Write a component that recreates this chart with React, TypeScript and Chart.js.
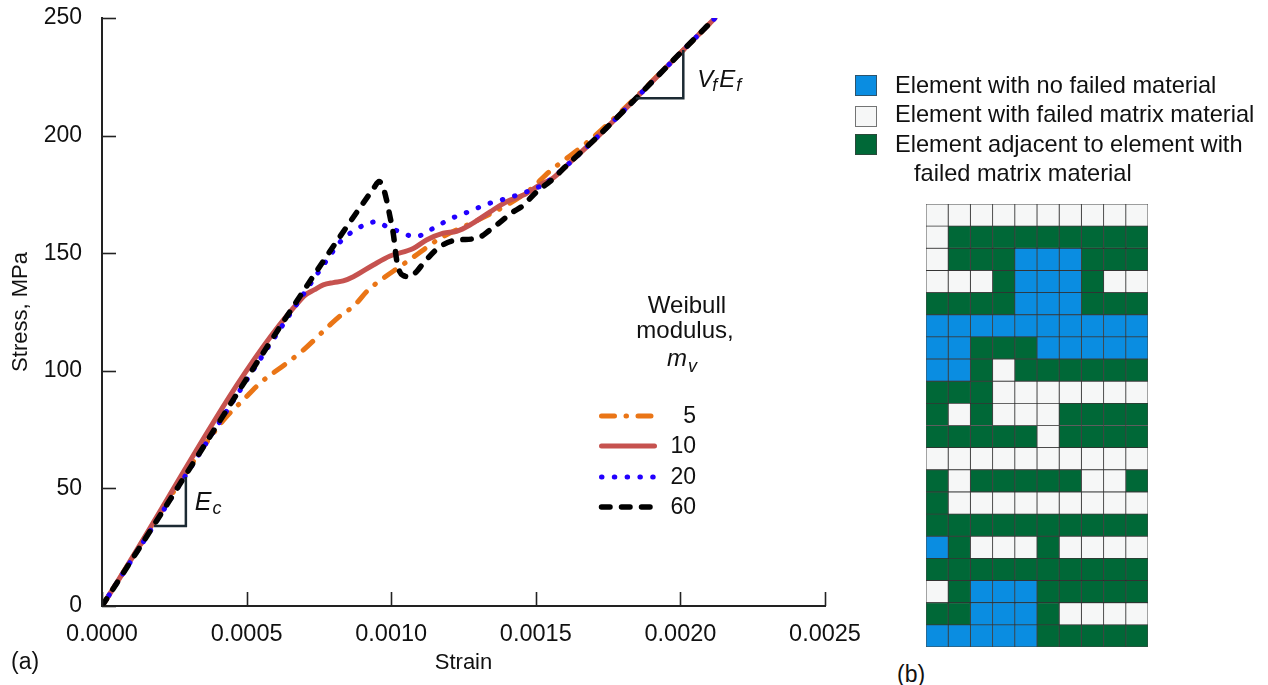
import React, { useEffect, useRef } from "react";
import { Chart, registerables } from "chart.js";

Chart.register(...registerables);

const FONT = "'Liberation Sans', Arial, Helvetica, sans-serif";

// ---------- panel (a) data ----------
const xTickValues = [0, 0.0005, 0.001, 0.0015, 0.002, 0.0025];
const yTickValues = [0, 50, 100, 150, 200, 250];
const seriesNames = ["5", "10", "20", "60"];

const strainM5 = [0, 0.00041, 0.000494, 0.000546, 0.000638, 0.000696, 0.000782, 0.000834, 0.000869, 0.000921, 0.000972, 0.00103, 0.001076, 0.001169, 0.001307, 0.0014, 0.00148, 0.00155, 0.00163, 0.00171, 0.00201, 0.00212];
const stressM5 = [0, 77.5, 88.3, 94.7, 103.2, 108.8, 118.8, 124.4, 127.3, 134.4, 139.3, 144.3, 148.3, 156.3, 164.5, 170.5, 177, 185, 192.5, 200.5, 236.4, 250];

const strainM10 = [0, 0.000696, 0.000735, 0.000765, 0.0008, 0.000834, 0.000869, 0.000938, 0.000996, 0.001076, 0.001122, 0.00118, 0.001226, 0.001272, 0.001342, 0.001399, 0.001457, 0.001514, 0.00156, 0.0016, 0.00172, 0.00201, 0.00212];
const stressM10 = [0, 131.5, 134.5, 136.5, 137.5, 138.2, 140, 145, 148.8, 152, 155.6, 158.5, 159.3, 162, 167.6, 171.9, 174.7, 179, 182, 186.5, 200.3, 236.4, 250];

const strainM20 = [0, 0.00079, 0.000825, 0.000858, 0.000915, 0.00095, 0.000984, 0.001013, 0.00105, 0.001082, 0.001146, 0.001203, 0.001267, 0.00133, 0.001399, 0.001468, 0.001526, 0.0016, 0.00172, 0.00201, 0.00212];
const stressM20 = [0, 149.3, 155, 158.5, 162.4, 163.4, 161.3, 159.9, 158, 157, 160.6, 164.5, 167.6, 170.8, 173.3, 176.1, 179.2, 186.5, 200.3, 236.4, 250];

const strainM60 = [0, 0.00094, 0.000958, 0.000972, 0.000984, 0.000995, 0.001007, 0.001019, 0.00103, 0.001042, 0.001065, 0.00109, 0.001111, 0.001169, 0.001226, 0.001296, 0.001342, 0.001422, 0.001451, 0.001503, 0.001555, 0.0016, 0.00172, 0.00201, 0.00212];
const stressM60 = [0, 177.7, 180.5, 178, 172.6, 166, 158.5, 147, 142, 140.5, 140, 142.5, 145.7, 152.8, 155.6, 156.3, 159.9, 167.6, 169.8, 176.1, 181.1, 186.5, 200.3, 236.4, 250];

// slope triangles (data coordinates: strain pair, stress pair)
const ecTriangleStrain = [0.00018, 0.00029];
const ecTriangleStress = [34, 54.8];
const vfTriangleStrain = [0.001846, 0.00201];
const vfTriangleStress = [215.9, 236.4];

// ---------- panel (b) data ----------
const gridRows = [
  "WWWWWWWWWW",
  "WGGGGGGGGG",
  "WGGGBBBGGG",
  "WWWGBBBGWW",
  "GGGGBBBGGG",
  "BBBBBBBBBB",
  "BBGGGBBBBB",
  "BBGWGGGGGG",
  "GGGWWWWWWW",
  "GWGWWWGGGG",
  "GGGGGWGGGG",
  "WWWWWWWWWW",
  "GWGGGGGWWG",
  "GWWWWWWWWW",
  "GGGGGGGGGG",
  "BGWWWGWWWW",
  "GGGGGGGGGG",
  "WGBBBGGGGG",
  "GGBBBGWWWW",
  "BBBBBGGGGG",
];
const gridColumns = [0, 1, 2, 3, 4, 5, 6, 7, 8, 9];
const cellUnit = [1, 1, 1, 1, 1, 1, 1, 1, 1, 1, 1, 1, 1, 1, 1, 1, 1, 1, 1, 1];
const legendItems = [
  "Element with no failed material",
  "Element with failed matrix material",
  "Element adjacent to element with",
];

const COLORS = {
  m5: "#ea7516",
  m10: "#c6524f",
  m20: "#2200ff",
  m60: "#000000",
  B: "#0a8de1",
  W: "#f6f7f7",
  G: "#006837",
};

function zip(xs: number[], ys: number[]) {
  return xs.map((x, i) => ({ x, y: ys[i] }));
}

const annotationPlugin = {
  id: "annotations",
  afterDraw(chart: any) {
    const ctx = chart.ctx as CanvasRenderingContext2D;
    const xs = chart.scales.x;
    const ys = chart.scales.y;
    ctx.save();
    // inward tick marks
    ctx.strokeStyle = "#222";
    ctx.lineWidth = 1.6;
    ctx.setLineDash([]);
    xTickValues.forEach((v) => {
      const px = Math.round(xs.getPixelForValue(v)) + 0.5;
      ctx.beginPath();
      ctx.moveTo(px, ys.bottom);
      ctx.lineTo(px, ys.bottom - 14);
      ctx.stroke();
    });
    yTickValues.forEach((v) => {
      const py = Math.round(ys.getPixelForValue(v)) + 0.5;
      ctx.beginPath();
      ctx.moveTo(xs.left, py);
      ctx.lineTo(xs.left + 14, py);
      ctx.stroke();
    });

    // slope triangles
    ctx.strokeStyle = "#1c2a33";
    ctx.lineWidth = 2.5;
    const tri = (sx: number[], sy: number[]) => {
      const x0 = xs.getPixelForValue(sx[0]);
      const x1 = xs.getPixelForValue(sx[1]);
      const y0 = ys.getPixelForValue(sy[0]);
      const y1 = ys.getPixelForValue(sy[1]);
      ctx.beginPath();
      ctx.moveTo(x0, y0);
      ctx.lineTo(x1, y0);
      ctx.lineTo(x1, y1);
      ctx.stroke();
      return { x1, y0, y1 };
    };
    const ec = tri(ecTriangleStrain, ecTriangleStress);
    const vf = tri(vfTriangleStrain, vfTriangleStress);

    ctx.fillStyle = "#111";
    ctx.textBaseline = "alphabetic";
    ctx.textAlign = "left";
    // E_c
    let x = ec.x1 + 9;
    ctx.font = `italic 25px ${FONT}`;
    ctx.fillText("E", x, 510);
    x += ctx.measureText("E").width + 1;
    ctx.font = `italic 18px ${FONT}`;
    ctx.fillText("c", x, 514);
    // V_f E_f
    x = vf.x1 + 14;
    ctx.font = `italic 24px ${FONT}`;
    ctx.fillText("V", x, 87);
    x += ctx.measureText("V").width - 1;
    ctx.font = `italic 18px ${FONT}`;
    ctx.fillText("f", x, 91);
    x += ctx.measureText("f").width + 2;
    ctx.font = `italic 24px ${FONT}`;
    ctx.fillText("E", x, 87);
    x += ctx.measureText("E").width + 1;
    ctx.font = `italic 18px ${FONT}`;
    ctx.fillText("f", x, 91);

    // Weibull modulus title
    ctx.textAlign = "center";
    ctx.font = `24px ${FONT}`;
    ctx.fillText("Weibull", 687, 313);
    ctx.fillText("modulus,", 685, 338);
    ctx.textAlign = "left";
    ctx.font = `italic 24px ${FONT}`;
    ctx.fillText("m", 667, 366);
    const mw = ctx.measureText("m").width;
    ctx.font = `italic 18px ${FONT}`;
    ctx.fillText("v", 667 + mw + 1, 372);

    // legend
    const rowsY = [416, 446, 477, 507];
    const legendStyles = [
      { color: COLORS.m5, dash: [13, 11.5, 0.5, 11.5], width: 5 },
      { color: COLORS.m10, dash: [], width: 5 },
      { color: COLORS.m20, dash: [0.5, 12.3], width: 5 },
      { color: COLORS.m60, dash: [8.5, 11.5], width: 5.5 },
    ];
    legendStyles.forEach((st, i) => {
      ctx.strokeStyle = st.color;
      ctx.lineWidth = st.width;
      ctx.lineCap = "round";
      ctx.setLineDash(st.dash);
      ctx.beginPath();
      ctx.moveTo(601.5, rowsY[i]);
      ctx.lineTo(654.5, rowsY[i]);
      ctx.stroke();
    });
    ctx.setLineDash([]);
    ctx.fillStyle = "#111";
    ctx.font = `23px ${FONT}`;
    ctx.textAlign = "right";
    ctx.textBaseline = "middle";
    seriesNames.forEach((n, i) => ctx.fillText(n, 696, rowsY[i] + 1));

    // panel label
    ctx.textAlign = "left";
    ctx.fillText("(a)", 11, 663);
    ctx.restore();
  },
};

function StressStrainChart() {
  const ref = useRef<HTMLCanvasElement | null>(null);
  useEffect(() => {
    if (!ref.current) return;
    const common = {
      pointRadius: 0,
      borderCapStyle: "round" as const,
      borderJoinStyle: "round" as const,
      fill: false,
      cubicInterpolationMode: "monotone" as const,
    };
    const chart = new Chart(ref.current, {
      type: "line",
      data: {
        datasets: [
          { ...common, label: seriesNames[3], data: zip(strainM60, stressM60), borderColor: COLORS.m60, borderWidth: 5.5, borderDash: [8.5, 11.5], order: 0 },
          { ...common, label: seriesNames[2], data: zip(strainM20, stressM20), borderColor: COLORS.m20, borderWidth: 5, borderDash: [0.5, 12.3], order: 1 },
          { ...common, label: seriesNames[1], data: zip(strainM10, stressM10), borderColor: COLORS.m10, borderWidth: 5, order: 2 },
          { ...common, label: seriesNames[0], data: zip(strainM5, stressM5), borderColor: COLORS.m5, borderWidth: 5, borderDash: [13, 11.5, 0.5, 11.5], order: 3 },
        ],
      },
      options: {
        responsive: false,
        animation: false,
        devicePixelRatio: 1,
        layout: { padding: { left: 0, top: 18, right: 45, bottom: 0 } },
        plugins: { legend: { display: false }, tooltip: { enabled: false } },
        scales: {
          x: {
            type: "linear",
            min: 0,
            max: 0.0025,
            afterBuildTicks: (s: any) => {
              s.ticks = xTickValues.map((v) => ({ value: v }));
            },
            ticks: {
              callback: (v: any) => Number(v).toFixed(4),
              font: { size: 23.5, family: FONT },
              color: "#111",
              padding: 14,
              maxRotation: 0,
              autoSkip: false,
            },
            grid: { display: false, drawTicks: false },
            border: { display: true, color: "#222", width: 2 },
            title: { display: true, text: "Strain", font: { size: 22, family: FONT }, color: "#111", padding: { top: 0, bottom: 9 } },
            afterFit: (s: any) => {
              s.height = 79;
              s.paddingLeft = 0;
              s.paddingRight = 0;
            },
          },
          y: {
            type: "linear",
            min: 0,
            max: 250,
            afterBuildTicks: (s: any) => {
              s.ticks = yTickValues.map((v) => ({ value: v }));
            },
            ticks: {
              font: { size: 23, family: FONT },
              color: "#111",
              padding: 20,
              autoSkip: false,
            },
            grid: { display: false, drawTicks: false },
            border: { display: true, color: "#222", width: 2 },
            title: { display: true, text: "Stress, MPa", font: { size: 22, family: FONT }, color: "#111", padding: { top: 8, bottom: 0 } },
            afterFit: (s: any) => {
              s.width = 102;
              s.paddingTop = 0;
              s.paddingBottom = 0;
            },
          },
        },
      } as any,
      plugins: [annotationPlugin],
    });
    return () => chart.destroy();
  }, []);
  return <canvas ref={ref} width={870} height={685} style={{ position: "absolute", left: 0, top: 0 }} />;
}

function ElementGridChart() {
  const ref = useRef<HTMLCanvasElement | null>(null);
  useEffect(() => {
    if (!ref.current) return;
    const chart = new Chart(ref.current, {
      type: "bar",
      data: {
        labels: gridRows.map((_, i) => `row ${i + 1}`),
        datasets: gridColumns.map((c) => ({
          label: `column ${c + 1}`,
          data: cellUnit,
          backgroundColor: gridRows.map((r) => (COLORS as any)[r[c]]),
          borderColor: "rgba(35,35,35,0.85)",
          borderWidth: 0.8,
          borderSkipped: false,
          barPercentage: 1,
          categoryPercentage: 1,
        })),
      },
      options: {
        indexAxis: "y",
        responsive: false,
        animation: false,
        devicePixelRatio: 1,
        layout: { padding: 0 },
        plugins: { legend: { display: false }, tooltip: { enabled: false } },
        scales: {
          x: { stacked: true, min: 0, max: 10, display: false },
          y: { stacked: true, display: false },
        },
      } as any,
    });
    return () => chart.destroy();
  }, []);
  return <canvas ref={ref} width={222} height={443} style={{ position: "absolute", left: 926, top: 204 }} />;
}

export default function App() {
  const textStyle: React.CSSProperties = {
    position: "absolute",
    fontFamily: FONT,
    fontSize: 23.6,
    lineHeight: "26px",
    color: "#111",
    whiteSpace: "nowrap",
  };
  const squareColors = [COLORS.B, COLORS.W, COLORS.G];
  const squareTops = [75, 106, 134];
  const textCenters = [85, 114, 144];
  return (
    <div style={{ position: "fixed", left: 0, top: 0, width: 1268, height: 685, background: "#fff", overflow: "hidden" }}>
      <StressStrainChart />
      {legendItems.map((t, i) => (
        <React.Fragment key={t}>
          <div
            style={{
              position: "absolute",
              left: 855,
              top: squareTops[i],
              width: 20,
              height: 19,
              background: squareColors[i],
              border: "1px solid rgba(60,60,60,0.7)",
            }}
          />
          <div style={{ ...textStyle, left: 895, top: textCenters[i] - 13 }}>{t}</div>
        </React.Fragment>
      ))}
      <div style={{ ...textStyle, left: 914, top: 173 - 13 }}>failed matrix material</div>
      <ElementGridChart />
      <div style={{ ...textStyle, left: 897, top: 674 - 13, fontSize: 23 }}>(b)</div>
    </div>
  );
}
